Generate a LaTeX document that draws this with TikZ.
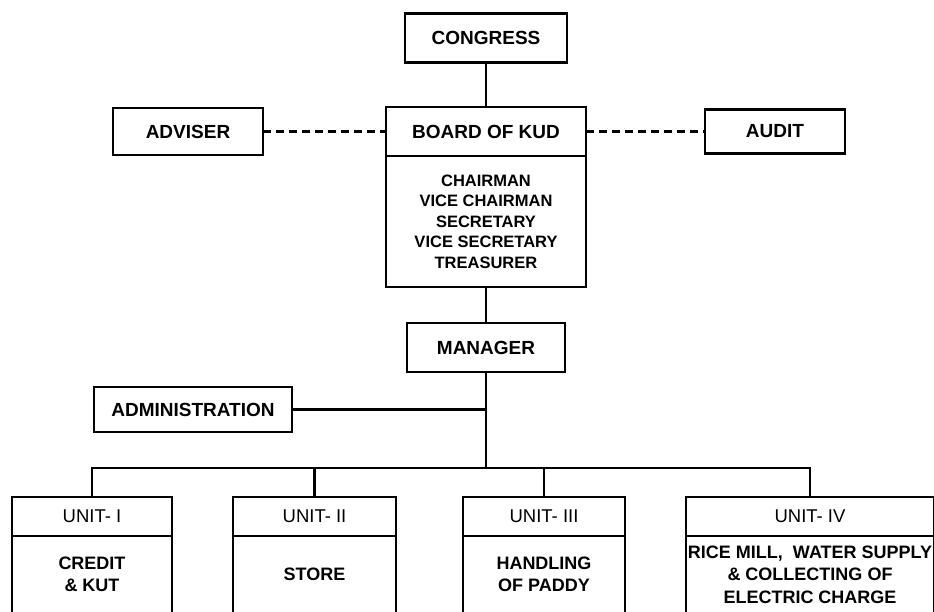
\documentclass[tikz,border=0pt]{standalone}
\usepackage{fontspec}
\setmainfont{Liberation Sans}
\usepackage{tikz}
\usetikzlibrary{positioning, calc}
\tikzset{
  bx/.style={draw=black, fill=white, minimum width=#1, minimum height=49pt,
             inner sep=0pt, outer sep=0pt, align=center,
             font=\fontsize{19}{22}\selectfont\bfseries},
  bxL/.style={draw=black, fill=white, minimum width=#1, minimum height=49pt,
              inner sep=0pt, outer sep=0pt, align=center,
              font=\fontsize{16.5}{20.5}\selectfont\bfseries},
  bxU/.style={draw=black, fill=white, minimum width=#1, minimum height=39pt,
              inner sep=0pt, outer sep=0pt, align=center,
              font=\fontsize{18.5}{22.5}\selectfont},
  bxUB/.style={bxU=#1, minimum height=77pt, font=\fontsize{18}{22.5}\selectfont\bfseries},
  dashline/.style={dash pattern=on 8pt off 5pt},
}
\begin{document}
\begin{tikzpicture}[x=1pt, y=-1pt, line width=2.4pt]
    \useasboundingbox (0,0) rectangle (934,611);

    % top of the chart
    \node[bx=162pt]                    (congress) at (486,38)    {CONGRESS};
    \node[bx=200pt]                    (board)    at (486,131.5) {BOARD OF KUD};
    \node[bxL=200pt, minimum height=131pt, anchor=north] (members) at (board.south)
        {CHAIRMAN\\VICE CHAIRMAN\\SECRETARY\\VICE SECRETARY\\TREASURER};
    \node[bx=150pt, minimum height=47pt] (adviser) at (188,131.5) {ADVISER};
    \node[bx=140pt, minimum height=44pt] (audit)   at (775,131.5) {AUDIT};
    \node[bx=158pt]                    (manager)  at (486,347.5) {MANAGER};
    \node[bx=198pt, minimum height=45pt] (admin)  at (193,409.5) {ADMINISTRATION};
    \coordinate (bus) at (486,468);

    % units
    \node[bxU=160pt] (u1) at (92,516.5)  {UNIT- I};
    \node[bxUB=160pt, anchor=north] (u1b) at (u1.south) {CREDIT\\\& KUT};
    \node[bxU=163pt] (u2) at (314.5,516.5) {UNIT- II};
    \node[bxUB=163pt, anchor=north] (u2b) at (u2.south) {STORE};
    \node[bxU=162pt] (u3) at (544,516.5) {UNIT- III};
    \node[bxUB=162pt, anchor=north] (u3b) at (u3.south) {HANDLING\\OF PADDY};
    \node[bxU=248pt] (u4) at (810,516.5) {UNIT- IV};
    \node[bxUB=248pt, anchor=north] (u4b) at (u4.south)
        {RICE MILL,\ \ WATER SUPPLY\\\& COLLECTING OF\\ELECTRIC CHARGE};

    % lines
    \draw (congress) -- (board);
    \draw (members)  -- (manager);
    \draw[dashline] (adviser) -- (board);
    \draw[dashline] (board)   -- (audit);
    \draw (manager) -- (bus);
    \draw (admin)   -- (admin -| bus);
    \draw (u1) |- (bus) -| (u4);
    \draw (bus -| u2) -- (u2);
    \draw (bus -| u3) -- (u3);
\end{tikzpicture}
\end{document}
